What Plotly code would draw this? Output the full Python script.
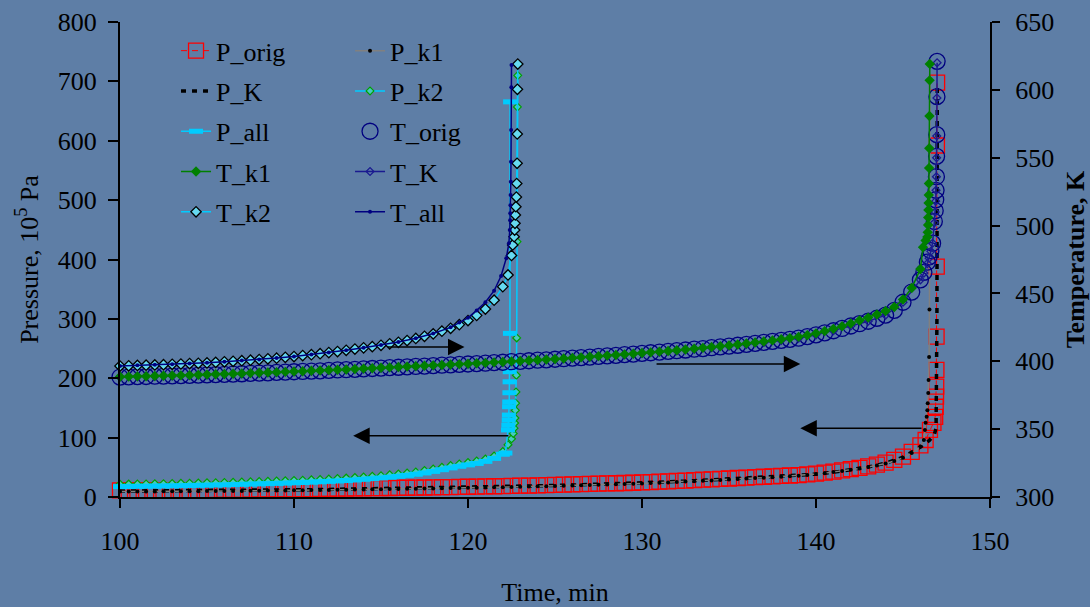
import plotly.graph_objects as go

# ---------------- data ----------------
# group B (runaway near 147 min), 0.5-min sampling of the slow part
t_slow_B = [100.0, 100.5, 101.0, 101.5, 102.0, 102.5, 103.0, 103.5, 104.0, 104.5,
            105.0, 105.5, 106.0, 106.5, 107.0, 107.5, 108.0, 108.5, 109.0, 109.5,
            110.0, 110.5, 111.0, 111.5, 112.0, 112.5, 113.0, 113.5, 114.0, 114.5,
            115.0, 115.5, 116.0, 116.5, 117.0, 117.5, 118.0, 118.5, 119.0, 119.5,
            120.0, 120.5, 121.0, 121.5, 122.0, 122.5, 123.0, 123.5, 124.0, 124.5,
            125.0, 125.5, 126.0, 126.5, 127.0, 127.5, 128.0, 128.5, 129.0, 129.5,
            130.0, 130.5, 131.0, 131.5, 132.0, 132.5, 133.0, 133.5, 134.0, 134.5,
            135.0, 135.5, 136.0, 136.5, 137.0, 137.5, 138.0, 138.5, 139.0, 139.5,
            140.0, 140.5, 141.0, 141.5, 142.0, 142.5, 143.0, 143.5, 144.0, 144.5,
            145.0, 145.5, 146.0]
t_int_B = [100, 101, 102, 103, 104, 105, 106, 107, 108, 109, 110, 111, 112, 113, 114,
           115, 116, 117, 118, 119, 120, 121, 122, 123, 124, 125, 126, 127, 128, 129,
           130, 131, 132, 133, 134, 135, 136, 137, 138, 139, 140, 141, 142, 143, 144,
           145, 146]

T_orig_slow = [388.4, 388.5, 388.7, 388.8, 389.0, 389.1, 389.3, 389.4, 389.6, 389.8,
               390.0, 390.2, 390.4, 390.6, 390.8, 391.1, 391.3, 391.5, 391.8, 392.0,
               392.3, 392.5, 392.8, 393.0, 393.3, 393.6, 393.8, 394.1, 394.4, 394.7,
               395.0, 395.3, 395.6, 395.9, 396.2, 396.5, 396.8, 397.1, 397.4, 397.7,
               398.0, 398.3, 398.6, 399.0, 399.3, 399.7, 400.0, 400.4, 400.8, 401.1,
               401.5, 401.9, 402.3, 402.7, 403.1, 403.6, 404.0, 404.4, 404.9, 405.3,
               405.8, 406.3, 406.8, 407.3, 407.8, 408.3, 408.9, 409.4, 410.0, 410.6,
               411.2, 411.8, 412.5, 413.2, 413.9, 414.7, 415.4, 416.2, 417.0, 418.2,
               419.5, 421.0, 422.5, 424.2, 426.0, 427.7, 429.5, 431.7, 434.0, 437.5,
               443.5, 451.0, 460.0]
T_orig_spike_t = [146.2, 146.4, 146.5, 146.6, 146.7, 146.8, 146.85, 146.88, 146.9,
                  146.92, 146.93, 146.94, 146.95, 146.96]
T_orig_spike = [465.5, 473, 477, 481.5, 487, 503, 511, 519, 526, 536, 551, 567, 595, 621]

T_k1_slow = [388.6, 388.7, 388.9, 389.0, 389.2, 389.3, 389.5, 389.6, 389.8, 390.0,
             390.2, 390.4, 390.6, 390.8, 391.0, 391.3, 391.5, 391.7, 392.0, 392.2,
             392.5, 392.7, 393.0, 393.2, 393.5, 393.8, 394.0, 394.3, 394.6, 394.9,
             395.2, 395.5, 395.8, 396.1, 396.4, 396.7, 397.0, 397.3, 397.6, 397.9,
             398.2, 398.5, 398.8, 399.2, 399.5, 399.9, 400.2, 400.6, 401.0, 401.3,
             401.7, 402.1, 402.5, 402.9, 403.3, 403.8, 404.2, 404.6, 405.1, 405.6,
             406.1, 406.6, 407.1, 407.6, 408.1, 408.7, 409.3, 409.9, 410.5, 411.1,
             411.7, 412.4, 413.1, 413.8, 414.6, 415.4, 416.2, 417.1, 418.0, 419.2,
             420.6, 422.2, 423.9, 425.8, 427.8, 430.0, 432.2, 434.5, 437.0, 440.0,
             445.5, 454.0, 468.0]
T_k1_spike_t = [146.15, 146.3, 146.4, 146.42, 146.44, 146.45, 146.46, 146.47, 146.48,
                146.49, 146.5, 146.51, 146.52, 146.53, 146.54]
T_k1_spike = [484, 489, 491.6, 495, 500.4, 506, 511.5, 516.6, 522.5, 531, 542.4, 557,
              580.7, 607, 619]

T_K_slow = [388.4, 388.7, 389.0, 389.3, 389.6, 390.0, 390.4, 390.8, 391.3, 391.8,
            392.3, 392.8, 393.3, 393.8, 394.4, 395.0, 395.6, 396.2, 396.8, 397.4,
            398.0, 398.6, 399.3, 400.0, 400.8, 401.5, 402.3, 403.1, 404.0, 404.9,
            405.8, 406.8, 407.8, 408.9, 410.0, 411.2, 412.5, 413.9, 415.4, 417.0,
            419.5, 422.5, 426.0, 429.5, 434.0, 443.5, 460.0]
T_K_spike_t = [146.2, 146.4, 146.5, 146.6, 146.7, 146.8, 146.85, 146.88, 146.9,
               146.92, 146.93, 146.94, 146.95, 146.96]
T_K_spike = [465, 472, 476, 481, 487, 502, 510, 518, 526, 536, 550, 566, 594, 620]

P_orig_slow = [11.0, 11.0, 11.1, 11.1, 11.2, 11.3, 11.3, 11.4, 11.5, 11.6,
               11.7, 11.8, 11.9, 12.0, 12.1, 12.3, 12.4, 12.6, 12.7, 12.9,
               13.0, 13.2, 13.4, 13.6, 13.8, 14.0, 14.2, 14.4, 14.6, 14.8,
               15.0, 15.2, 15.4, 15.6, 15.8, 16.0, 16.3, 16.5, 16.8, 17.0,
               17.3, 17.5, 17.8, 18.1, 18.4, 18.7, 19.0, 19.3, 19.7, 20.0,
               20.4, 20.8, 21.2, 21.6, 22.0, 22.4, 22.8, 23.2, 23.6, 24.0,
               24.6, 25.2, 25.8, 26.4, 27.0, 27.7, 28.4, 29.1, 29.8, 30.5,
               31.2, 32.0, 32.7, 33.4, 34.1, 34.8, 35.5, 36.2, 36.9, 38.0,
               39.5, 41.0, 42.6, 44.8, 47.0, 49.2, 51.5, 54.5, 58.0, 62.5,
               68.0, 76.0, 87.0]
P_orig_spike_t = [146.3, 146.55, 146.75, 146.85, 146.88, 146.9, 146.91, 146.92,
                  146.93, 146.94, 146.95, 146.96]
P_orig_spike = [96, 113, 125, 135, 152, 169, 186, 214, 270, 388, 592, 698]

P_k1_slow = [9.2, 9.2, 9.3, 9.3, 9.4, 9.5, 9.5, 9.6, 9.7, 9.8,
             9.9, 10.0, 10.1, 10.2, 10.3, 10.5, 10.6, 10.8, 10.9, 11.1,
             11.2, 11.4, 11.6, 11.8, 12.0, 12.2, 12.4, 12.6, 12.8, 13.0,
             13.2, 13.4, 13.6, 13.8, 14.0, 14.2, 14.5, 14.7, 15.0, 15.2,
             15.5, 15.7, 16.0, 16.3, 16.6, 16.9, 17.2, 17.5, 17.9, 18.2,
             18.6, 19.0, 19.4, 19.8, 20.2, 20.6, 21.0, 21.4, 21.8, 22.3,
             22.8, 23.4, 24.0, 24.6, 25.2, 25.9, 26.6, 27.3, 28.0, 28.7,
             29.5, 30.3, 31.0, 31.8, 32.6, 33.4, 34.2, 35.0, 35.9, 37.1,
             38.6, 40.2, 41.9, 43.8, 45.8, 48.0, 50.4, 53.2, 56.5, 60.5,
             66.0, 74.0, 85.0]
P_k1_spike_t = [146.2, 146.26, 146.3, 146.36, 146.4, 146.42, 146.45, 146.47, 146.5,
                146.52, 146.54, 146.56]
P_k1_spike = [96, 113, 125, 135, 146, 158, 175, 197, 236, 316, 480, 700]

P_K_slow = [10.0, 10.1, 10.2, 10.3, 10.5, 10.7, 10.9, 11.1, 11.4, 11.7,
            12.0, 12.4, 12.8, 13.2, 13.6, 14.0, 14.4, 14.8, 15.3, 15.8,
            16.3, 16.8, 17.4, 18.0, 18.7, 19.4, 20.2, 21.0, 21.8, 22.6,
            23.6, 24.8, 26.0, 27.4, 28.8, 30.2, 31.7, 33.1, 34.5, 35.9,
            38.5, 41.6, 46.0, 50.5, 57.0, 67.0, 84.0]
P_K_spike_t = [146.5, 146.8, 146.9, 146.95, 146.97]
P_K_spike = [95, 105, 116, 300, 697]

# group A (runaway near 123 min)
t_slow_A = [100.0, 100.5, 101.0, 101.5, 102.0, 102.5, 103.0, 103.5, 104.0, 104.5,
            105.0, 105.5, 106.0, 106.5, 107.0, 107.5, 108.0, 108.5, 109.0, 109.5,
            110.0, 110.5, 111.0, 111.5, 112.0, 112.5, 113.0, 113.5, 114.0, 114.5,
            115.0, 115.5, 116.0, 116.5, 117.0, 117.5, 118.0, 118.5, 119.0, 119.5,
            120.0, 120.5, 121.0, 121.5, 122.0]

T_k2_slow = [396.5, 396.7, 396.9, 397.1, 397.3, 397.5, 397.8, 398.0, 398.3, 398.5,
             398.8, 399.2, 399.6, 400.0, 400.4, 400.8, 401.3, 401.8, 402.3, 402.9,
             403.5, 404.2, 404.9, 405.6, 406.4, 407.2, 408.1, 409.0, 409.9, 410.8,
             411.8, 412.9, 414.0, 415.3, 416.8, 418.4, 420.2, 422.2, 424.3, 427.0,
             430.0, 433.8, 438.5, 445.0, 455.0]
T_k2_spike_t = [122.3, 122.5, 122.57, 122.65, 122.68, 122.7, 122.72, 122.75, 122.78,
                122.8, 122.82, 122.83, 122.84, 122.86]
T_k2_spike = [463.6, 478, 485.7, 491.8, 496.7, 501.7, 507.8, 513.9, 521, 531, 545.9,
              567.5, 600.4, 619]

T_all_t = [100, 101, 102, 103, 104, 105, 106, 107, 108, 109, 110, 111, 112, 113, 114,
           115, 116, 117, 118, 119, 119.5, 120, 120.5, 121, 121.5, 121.9, 122.2,
           122.35, 122.4, 122.42, 122.43, 122.44, 122.45, 122.46, 122.47, 122.48,
           122.49, 122.5]
T_all = [396.6, 397.0, 397.4, 397.9, 398.4, 398.9, 399.7, 400.5, 401.4, 402.4,
         403.6, 405.0, 406.5, 408.2, 410.0, 412.0, 414.2, 417.0, 420.5, 425.0,
         428.5, 432.0, 437.5, 443.5, 452.0, 462.8, 476, 487, 496.7, 504, 509, 515,
         522.5, 532.3, 547, 570.4, 602, 618.3]

P_k2_slow = [21.5, 21.7, 21.9, 22.1, 22.3, 22.5, 22.7, 23.0, 23.3, 23.6,
             23.9, 24.2, 24.5, 24.9, 25.3, 25.7, 26.1, 26.5, 26.9, 27.4,
             27.9, 28.4, 29.0, 29.6, 30.3, 31.0, 31.8, 32.7, 33.7, 34.8,
             36.0, 37.3, 38.8, 40.4, 42.3, 44.5, 47.1, 50.0, 53.0, 55.7,
             58.1, 60.5, 64.0, 69.0, 76.5]
P_k2_spike_t = [122.3, 122.5, 122.6, 122.65, 122.68, 122.7, 122.72, 122.74, 122.76,
                122.78, 122.8, 122.82, 122.84, 122.86]
P_k2_spike = [88, 98, 107, 116, 124.6, 133, 146, 158, 177, 205, 268, 430, 657, 710]

P_all_slow = [17.5, 17.7, 17.9, 18.1, 18.3, 18.5, 18.7, 19.0, 19.3, 19.6,
              19.9, 20.2, 20.5, 20.9, 21.3, 21.7, 22.1, 22.5, 22.9, 23.4,
              23.9, 24.4, 25.0, 25.6, 26.3, 27.0, 27.8, 28.7, 29.7, 30.8,
              32.0, 33.3, 34.8, 36.4, 38.3, 40.5, 43.1, 46.0, 49.0, 51.7,
              54.1, 56.5, 60.0, 65.0, 72.0]
P_all_spike_t = [122.15, 122.3, 122.32, 122.34, 122.35, 122.36, 122.37, 122.38,
                 122.39, 122.4, 122.41, 122.42]
P_all_spike = [74, 113, 121, 129.6, 138, 152, 160, 175.6, 194, 211, 275.6, 665.5]

# arrows: (tail_x, head_x, level on pressure axis)
arrow_tail_x = [115.3, 130.75, 122.4, 146.15]
arrow_head_x = [119.8, 139.1, 113.4, 139.1]
arrow_level = [252.5, 224, 103, 116]

x_ticks = [100, 110, 120, 130, 140, 150]
p_ticks = [0, 100, 200, 300, 400, 500, 600, 700, 800]
t_ticks = [300, 350, 400, 450, 500, 550, 600, 650]

# ---------------- styles ----------------
BG = "#5E7EA6"
FONT = "Liberation Serif, Times New Roman, serif"
CYAN = "#00CCFF"
NAVY = "#000080"

fig = go.Figure()


def add(name, x, y, legend, yaxis="y", mode="lines+markers", line=None, marker=None):
    fig.add_trace(go.Scatter(
        x=x, y=y, name=name, mode=mode, yaxis=yaxis, legend=legend,
        legendgroup=name, line=line or {}, marker=marker or {}, cliponaxis=False))


add("P_orig", t_slow_B + P_orig_spike_t, P_orig_slow + P_orig_spike, "legend",
    line=dict(color="red", width=1, dash="6px,5px"),
    marker=dict(symbol="square-open", size=15, color="red", line=dict(width=1.3)))
add("P_K", t_int_B + P_K_spike_t, P_K_slow + P_K_spike, "legend", mode="lines",
    line=dict(color="black", width=3.5, dash="5px,6px"))
add("P_k1", t_slow_B + P_k1_spike_t, P_k1_slow + P_k1_spike, "legend2",
    line=dict(color="#808080", width=1.5),
    marker=dict(symbol="circle", size=4, color="black"))
add("P_k2", t_slow_A + P_k2_spike_t, P_k2_slow + P_k2_spike, "legend2",
    line=dict(color=CYAN, width=1.5),
    marker=dict(symbol="diamond", size=6, color="#48C8C0", line=dict(color="#00A000", width=1.2)))
add("P_all", t_slow_A + P_all_spike_t, P_all_slow + P_all_spike, "legend",
    line=dict(color=CYAN, width=1.5),
    marker=dict(symbol="line-ew", size=10, color=CYAN, line=dict(color=CYAN, width=5)))
add("T_orig", t_slow_B + T_orig_spike_t, T_orig_slow + T_orig_spike, "legend2", yaxis="y2",
    mode="markers",
    marker=dict(symbol="circle-open", size=16, color=NAVY, line=dict(width=1.3)))
add("T_K", t_int_B + T_K_spike_t, T_K_slow + T_K_spike, "legend2", yaxis="y2",
    line=dict(color="#1A1A90", width=1.5),
    marker=dict(symbol="diamond-open", size=6, color="#1A1A90", line=dict(width=1.3)))
add("T_k1", t_slow_B + T_k1_spike_t, T_k1_slow + T_k1_spike, "legend", yaxis="y2",
    line=dict(color="#008000", width=1.5),
    marker=dict(symbol="diamond", size=8, color="#008000"))
add("T_k2", t_slow_A + T_k2_spike_t, T_k2_slow + T_k2_spike, "legend", yaxis="y2",
    line=dict(color=CYAN, width=1.5),
    marker=dict(symbol="diamond", size=8, color="#66D9F0", line=dict(color="black", width=1.3)))
add("T_all", T_all_t, T_all, "legend2", yaxis="y2",
    line=dict(color=NAVY, width=1.5),
    marker=dict(symbol="circle", size=4, color=NAVY))

for tx, hx, lv in zip(arrow_tail_x, arrow_head_x, arrow_level):
    fig.add_annotation(x=hx, y=lv, ax=tx, ay=lv, xref="x", yref="y", axref="x", ayref="y",
                       text="", showarrow=True, arrowhead=2, arrowsize=2.2,
                       arrowwidth=1.5, arrowcolor="black")

axis_common = dict(showline=True, linecolor="black", linewidth=2, showgrid=False,
                   zeroline=False, ticks="outside", tickcolor="black", tickwidth=1.5,
                   automargin=False,
                   tickfont=dict(family=FONT, size=26, color="black"))

legend_common = dict(xanchor="left", yanchor="top", bgcolor="rgba(0,0,0,0)",
                     traceorder="grouped", tracegroupgap=3.5,
                     font=dict(family=FONT, size=26, color="black"))

fig.update_layout(
    width=1090, height=607,
    margin=dict(l=120, r=100, t=22, b=110),
    paper_bgcolor=BG, plot_bgcolor=BG,
    font=dict(family=FONT, size=26, color="black"),
    xaxis=dict(range=[100, 150], tickvals=x_ticks, ticklen=9, ticklabelstandoff=11,
               title=dict(text="Time, min", standoff=30,
                          font=dict(family=FONT, size=26)),
               **axis_common),
    yaxis=dict(range=[0, 800], tickvals=p_ticks, ticklen=10, ticklabelstandoff=6,
               title=dict(text="Pressure, 10<sup>5</sup> Pa", standoff=12,
                          font=dict(family=FONT, size=26)),
               **axis_common),
    yaxis2=dict(range=[300, 650], tickvals=t_ticks, overlaying="y", side="right",
                anchor="x", ticklen=8, ticklabelstandoff=10,
                title=dict(text="<b>Temperature, K</b>", standoff=14,
                           font=dict(family=FONT, size=26)),
                **axis_common),
    legend=dict(x=0.0644, y=0.989, **legend_common),
    legend2=dict(x=0.2644, y=0.989, **legend_common),
    showlegend=True,
)

fig.write_html("out.html", config={"displayModeBar": False},
               post_script="document.body.style.margin='0px';")
